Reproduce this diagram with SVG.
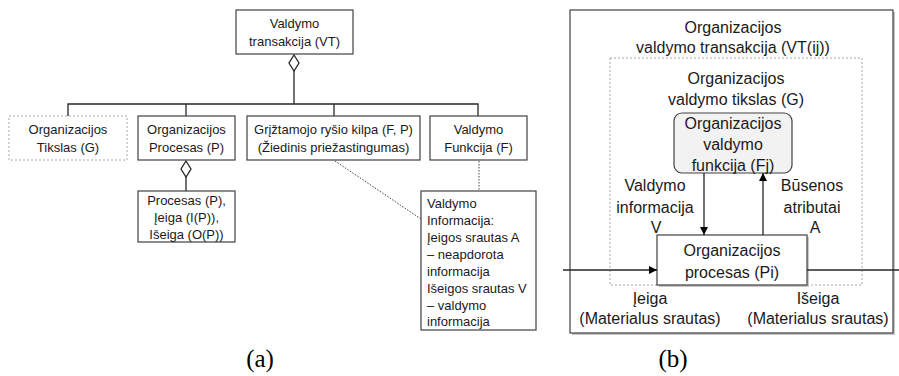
<svg xmlns="http://www.w3.org/2000/svg" width="899" height="376" viewBox="0 0 899 376">
  <style>
    .box { fill: #ffffff; stroke: #404040; stroke-width: 1.2; }
    .dash { fill: #ffffff; stroke: #a6a6a6; stroke-width: 1; stroke-dasharray: 2 2; }
    .line { fill: none; stroke: #262626; stroke-width: 1.3; }
    .dot { fill: none; stroke: #404040; stroke-width: 1; stroke-dasharray: 1.5 1.5; }
    .dia { fill: #ffffff; stroke: #262626; stroke-width: 1.3; }
    .ta { font-family: "Liberation Sans", Arial, sans-serif; font-size: 13px; fill: #1a1a1a; text-anchor: middle; }
    .tl { font-family: "Liberation Sans", Arial, sans-serif; font-size: 13px; fill: #1a1a1a; }
    .tb { font-family: "Liberation Sans", Arial, sans-serif; font-size: 16px; fill: #1a1a1a; text-anchor: middle; }
    .cap { font-family: "Liberation Serif", "Times New Roman", serif; font-size: 25px; fill: #000000; text-anchor: middle; }
    .shadow { fill: #c8c8c8; }
  </style>
  <defs>
    <marker id="arrow" viewBox="0 0 10 10" refX="10" refY="5" markerWidth="8" markerHeight="8" markerUnits="userSpaceOnUse" orient="auto">
      <path d="M0,0 L10,5 L0,10 Z" fill="#000000"/>
    </marker>
  </defs>

  <!-- (a) aggregation tree -->
  <g id="connectors-a">
    <polygon class="dia" points="294,55 299,63 294,71 289,63"/>
    <line class="line" x1="294" y1="71" x2="294" y2="104"/>
    <polyline class="line" points="68,116 68,104 478,104 478,116"/>
    <line class="line" x1="186" y1="104" x2="186" y2="116"/>
    <line class="line" x1="334" y1="104" x2="334" y2="116"/>
    <polygon class="dia" points="186,161 191,169 186,177 181,169"/>
    <line class="line" x1="186" y1="177" x2="186" y2="191"/>
    <line class="dot" x1="335" y1="161" x2="421" y2="219"/>
    <line class="dot" x1="479" y1="161" x2="479" y2="191"/>
  </g>

  <g id="vt">
    <rect class="box" x="236" y="10" width="117" height="44"/>
    <text class="ta" x="294.5" y="28">Valdymo</text>
    <text class="ta" x="294.5" y="46">transakcija (VT)</text>
  </g>

  <g id="tikslas">
    <rect class="dash" x="9" y="116" width="118" height="44"/>
    <text class="ta" x="68" y="134">Organizacijos</text>
    <text class="ta" x="68" y="152">Tikslas (G)</text>
  </g>

  <g id="procesas">
    <rect class="box" x="138" y="116" width="97" height="44"/>
    <text class="ta" x="186.5" y="134">Organizacijos</text>
    <text class="ta" x="186.5" y="152">Procesas (P)</text>
  </g>

  <g id="kilpa">
    <rect class="box" x="247" y="116" width="173" height="44"/>
    <text class="ta" x="333.5" y="134">Grįžtamojo ryšio kilpa (F, P)</text>
    <text class="ta" x="333.5" y="152">(Žiedinis priežastingumas)</text>
  </g>

  <g id="funkcija">
    <rect class="box" x="430" y="116" width="97" height="44"/>
    <text class="ta" x="478.5" y="134">Valdymo</text>
    <text class="ta" x="478.5" y="152">Funkcija (F)</text>
  </g>

  <g id="procesas-detail">
    <rect class="box" x="138" y="191" width="97" height="51"/>
    <text class="ta" x="186.5" y="205">Procesas (P),</text>
    <text class="ta" x="186.5" y="222">Įeiga (I(P)),</text>
    <text class="ta" x="186.5" y="239">Išeiga (O(P))</text>
  </g>

  <g id="informacija">
    <rect class="box" x="421" y="191" width="115" height="139"/>
    <text class="tl" x="427" y="208">Valdymo</text>
    <text class="tl" x="427" y="225">Informacija:</text>
    <text class="tl" x="427" y="242">Įeigos srautas A</text>
    <text class="tl" x="427" y="259">– neapdorota</text>
    <text class="tl" x="427" y="276">informacija</text>
    <text class="tl" x="427" y="293">Išeigos srautas V</text>
    <text class="tl" x="427" y="310">– valdymo</text>
    <text class="tl" x="427" y="326">informacija</text>
  </g>

  <text class="cap" x="260" y="367">(a)</text>

  <!-- (b) control transaction -->
  <g id="transakcija">
    <rect class="shadow" x="572" y="12" width="323" height="323"/>
    <rect class="box" x="570" y="10" width="323" height="323" stroke="#333333"/>
    <text class="tb" x="733" y="33">Organizacijos</text>
    <text class="tb" x="733" y="53">valdymo transakcija (VT(ij))</text>
  </g>

  <g id="tikslas-g">
    <rect class="dash" x="610" y="58" width="252" height="227"/>
    <text class="tb" x="736" y="84">Organizacijos</text>
    <text class="tb" x="736" y="105">valdymo tikslas (G)</text>
  </g>

  <g id="funkcija-fj">
    <rect x="674" y="113" width="118" height="60" rx="8" ry="8" fill="#f2f2f2" stroke="#404040" stroke-width="1.2"/>
    <text class="tb" x="733" y="129">Organizacijos</text>
    <text class="tb" x="733" y="150">valdymo</text>
    <text class="tb" x="733" y="171">funkcija (Fj)</text>
  </g>

  <g id="procesas-pi">
    <rect class="shadow" x="659" y="237" width="150" height="50"/>
    <rect class="box" x="657" y="235" width="150" height="50"/>
    <text class="tb" x="732" y="256">Organizacijos</text>
    <text class="tb" x="732" y="278">procesas (Pi)</text>
  </g>

  <g id="connectors-b">
    <line class="line" x1="704" y1="173" x2="704" y2="235" marker-end="url(#arrow)"/>
    <line class="line" x1="763" y1="235" x2="763" y2="173" marker-end="url(#arrow)"/>
    <line class="line" x1="563" y1="270" x2="657" y2="270" marker-end="url(#arrow)"/>
    <line class="line" x1="807" y1="270" x2="899" y2="270"/>
  </g>

  <g id="labels-b">
    <text class="tb" x="655" y="191">Valdymo</text>
    <text class="tb" x="655" y="213">informacija</text>
    <text class="tb" x="656" y="233">V</text>
    <text class="tb" x="812" y="191">Būsenos</text>
    <text class="tb" x="812" y="213">atributai</text>
    <text class="tb" x="815" y="233">A</text>
    <text class="tb" x="650" y="304">Įeiga</text>
    <text class="tb" x="650" y="324">(Materialus srautas)</text>
    <text class="tb" x="818" y="304">Išeiga</text>
    <text class="tb" x="818" y="324">(Materialus srautas)</text>
  </g>

  <text class="cap" x="673" y="367">(b)</text>
</svg>
